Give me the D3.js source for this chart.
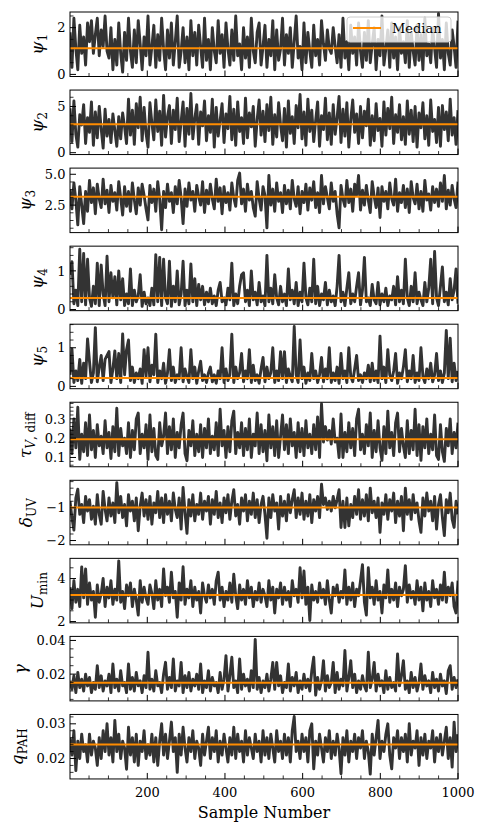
<!DOCTYPE html>
<html>
<head>
<meta charset="utf-8">
<script src="https://cdn.jsdelivr.net/npm/d3@7"></script>
<style>
body { margin: 0; background: #fff; }
svg text { font-family: "DejaVu Serif", "Liberation Serif", "Noto Serif", serif; fill: #000; }
</style>
</head>
<body>
<svg id="chart" width="485" height="832"></svg>
<script>
// chain, one value every ~5 samples
var psi1 = [1.8,0.3,2.4,1.1,0.2,2.1,0.9,1.6,0.4,2.2, 1.4,2.3,0.9,1.7,2.4,0.8,1.9,1.2,2.5,1.0,
  0.7,2.0,0.2,1.5,0.4,2.2,0.9,0.1,1.8,0.6, 2.4,1.0,0.3,1.9,0.5,2.3,1.3,0.2,1.6,0.8,
  2.5,0.4,1.2,2.1,0.3,1.7,0.6,2.4,1.1,0.2, 1.9,0.7,2.2,0.4,1.4,2.5,0.3,1.0,2.0,0.5,
  1.6,0.2,2.3,0.8,1.8,0.4,2.1,1.2,0.3,2.4, 0.6,1.5,0.2,2.0,1.0,0.5,2.3,0.9,1.7,0.3,
  2.2,1.1,0.4,1.9,0.6,2.5,0.8,1.3,0.2,2.0, 0.7,1.6,0.3,2.4,1.0,0.5,1.8,2.2,0.4,1.2,
  2.1,0.3,1.5,0.8,2.3,0.2,1.9,0.6,1.1,2.4, 0.4,1.7,0.9,2.0,0.3,1.4,2.5,0.7,1.2,0.2,
  2.2,0.5,1.8,1.0,0.3,2.1,0.8,1.5,0.4,2.3, 1.3,0.6,1.9,1.1,0.9,2.0,1.2,0.5,1.7,0.3,
  2.4,0.7,1.4,0.2,2.1,0.9,1.6,0.4,2.2,1.0, 0.3,1.8,0.6,2.3,0.5,1.3,2.0,0.2,1.5,0.8,
  2.5,0.4,1.1,1.9,0.3,2.2,0.7,1.6,0.2,2.0, 0.9,1.4,0.5,2.3,0.3,1.8,1.0,0.4,2.1,0.6,
  1.7,0.2,2.4,0.8,1.3,0.5,2.0,1.1,0.3,2.6, 0.7,1.5,0.2,2.2,0.9,0.4,1.9,1.2,0.3,2.3];

var psi2 = [4.8,1.2,5.6,2.0,0.6,4.1,3.0,5.2,1.0,3.8, 2.2,5.5,0.8,4.4,1.6,5.0,2.6,0.5,4.7,1.8,
  3.6,1.1,4.2,2.4,0.7,3.9,1.5,4.3,2.8,1.0, 5.8,1.9,4.6,0.9,5.3,2.7,6.0,1.3,4.9,2.1,
  0.6,5.4,3.2,1.4,5.7,2.3,4.5,0.8,6.2,1.7, 3.9,5.1,1.0,4.6,2.5,5.9,1.2,3.4,5.5,0.7,
  4.8,2.0,6.4,1.5,3.7,5.2,0.9,4.4,2.9,5.6, 1.3,4.0,2.2,5.8,0.6,4.9,1.8,3.5,5.3,1.1,
  4.2,2.6,6.1,1.4,4.7,0.8,5.5,2.3,3.8,1.0, 5.9,1.6,4.3,2.8,5.0,0.7,3.6,5.7,1.9,4.5,
  1.2,5.2,2.4,6.0,0.9,4.1,1.7,5.4,3.0,1.3, 4.8,0.6,5.6,2.1,3.9,1.0,5.1,2.7,6.3,1.5,
  4.4,0.8,5.8,2.3,4.6,1.2,3.5,5.5,0.7,4.0, 2.5,5.9,1.4,4.3,0.9,5.2,2.0,3.8,6.1,1.1,
  4.7,1.8,5.4,0.6,3.6,5.7,2.2,4.2,1.0,5.0, 1.6,4.5,2.9,5.8,0.8,4.0,1.3,5.3,2.4,3.7,
  0.7,5.5,1.9,4.8,2.6,6.0,1.0,4.1,2.2,5.2, 1.4,3.9,0.9,5.6,2.0,4.6,1.2,5.0,0.6,4.3,
  2.7,5.4,1.5,4.0,0.8,5.7,2.3,3.6,1.1,4.9, 0.7,5.1,2.5,4.4,1.3,5.8,1.9,3.8,0.9,4.6];

var psi3 = [3.8,2.2,4.3,2.9,0.9,4.0,2.5,1.0,3.6,2.0, 4.5,2.7,3.9,1.8,4.2,3.0,2.3,4.6,2.6,3.7,
  1.9,4.1,2.8,3.5,2.1,4.4,3.1,1.7,4.0,2.4, 3.6,2.0,4.3,2.9,1.8,3.9,2.5,4.2,3.3,2.2,
  1.3,4.1,2.7,3.8,2.0,4.4,3.0,0.5,3.6,2.3, 4.2,2.8,3.5,1.9,4.0,2.6,4.5,3.1,1.0,3.8,
  2.4,4.3,2.9,3.6,2.0,4.1,3.2,2.5,4.4,1.9, 3.7,2.6,4.2,3.0,2.2,4.6,2.8,3.9,1.8,4.0,
  2.7,3.5,2.1,4.3,3.1,2.4,4.5,5.1,2.6,3.8, 2.0,4.2,2.9,3.6,2.3,1.6,4.4,3.0,2.1,4.0,
  3.3,0.65,4.9,2.5,3.8,2.0,4.3,2.8,3.5,1.9, 4.1,2.6,3.7,2.2,4.5,3.0,2.4,4.0,1.8,3.6,
  2.7,4.2,2.1,3.9,2.9,4.4,2.3,3.5,1.9,4.9, 2.6,4.0,3.1,2.2,4.3,2.8,3.6,1.8,0.65,4.1,
  3.0,2.4,4.5,2.7,3.8,2.0,4.2,3.3,4.9,2.1, 3.7,2.5,4.1,2.9,1.9,4.4,3.2,2.3,3.9,1.5,
  4.0,2.8,3.6,2.2,4.3,3.0,2.5,4.6,2.0,3.5, 2.7,4.1,2.3,3.8,1.9,4.4,3.1,2.6,4.2,2.2,
  3.6,2.0,4.5,2.9,3.4,2.1,4.0,2.7,3.8,2.4, 4.3,2.8,4.9,2.2,3.7,2.5,4.1,3.0,2.3,4.4];

var psi4 = [0.9,1.24,0.15,0.5,0.1,1.56,0.2,1.45,0.12,1.3, 0.3,0.08,0.6,0.15,1.2,0.1,1.15,0.4,0.1,1.38,
  0.2,0.95,0.3,0.85,0.12,1.0,0.25,0.8,0.1,0.4, 0.15,1.05,0.1,0.5,0.2,0.35,0.9,0.08,0.45,0.15,
  0.3,0.1,0.55,0.12,1.42,0.2,1.35,0.1,1.3,0.3, 0.15,1.25,0.08,0.6,0.2,1.0,0.12,0.4,1.25,0.1,
  0.5,0.15,1.18,0.2,0.8,0.1,0.65,0.25,0.6,0.12, 0.45,0.2,0.55,0.15,0.35,0.1,0.5,0.7,0.2,0.3,
  0.12,0.55,0.25,1.2,0.1,0.4,0.15,0.6,0.9,0.95, 0.2,0.5,0.1,1.0,0.25,0.45,0.12,0.7,0.2,0.35,
  0.1,1.4,0.2,0.55,0.15,0.9,0.3,0.12,0.6,0.2, 0.4,0.1,1.05,0.25,0.5,0.15,0.7,0.1,0.45,0.2,
  1.2,0.3,0.12,0.55,0.2,1.3,0.15,0.6,0.1,0.4, 0.25,0.7,0.12,0.5,0.2,0.35,0.1,0.6,1.4,0.2,
  0.45,0.1,0.55,0.95,0.15,0.4,0.2,0.6,0.95,0.12, 0.5,1.35,0.2,0.3,0.1,0.65,0.25,0.15,0.7,0.12,
  0.4,0.2,0.55,0.1,0.35,0.25,0.6,0.12,0.85,0.2, 0.5,0.15,1.3,0.3,0.1,0.6,0.2,0.95,0.15,0.45,
  0.25,0.1,0.7,0.2,0.55,1.3,0.15,1.5,0.3,0.1, 0.6,1.1,0.2,0.45,0.12,0.8,0.25,0.5,1.05,0.15];

var psi5 = [0.3,0.97,0.1,0.4,0.15,0.7,0.08,0.6,0.2,1.23, 0.65,0.1,0.35,1.52,0.12,0.5,0.8,0.15,0.7,0.8,
  0.9,0.1,0.45,0.92,0.2,0.85,0.1,1.36,0.3,0.95, 1.2,0.15,0.5,0.1,0.35,0.2,0.45,0.08,0.95,0.25,
  1.0,0.12,0.55,0.3,1.35,0.1,0.4,0.2,0.6,0.08, 0.35,0.95,0.15,0.5,0.1,0.3,0.2,1.0,0.12,0.45,
  0.25,0.1,0.95,0.2,0.5,0.08,0.4,0.65,0.15,0.3, 0.1,0.35,0.5,0.12,0.3,0.08,0.4,0.2,1.0,0.1,
  0.45,0.15,0.3,1.35,0.1,0.5,0.2,0.35,0.85,0.12, 0.4,0.2,0.95,0.1,0.55,0.15,0.3,0.08,0.45,0.75,
  0.12,0.5,0.2,0.35,1.0,0.1,0.4,0.15,0.9,0.2, 0.9,0.1,0.45,0.25,0.12,1.55,0.3,0.1,1.2,0.2,
  0.5,0.08,0.35,0.15,0.85,0.2,0.4,0.1,0.3,0.75, 0.12,0.45,0.2,1.0,0.1,0.35,0.15,0.5,0.08,0.85,
  0.2,0.4,0.1,1.0,0.25,0.12,0.45,0.8,0.15,0.3, 0.1,0.35,0.2,0.55,0.12,0.6,0.15,0.4,0.1,1.3,
  0.2,0.5,0.1,0.95,0.3,0.15,0.4,0.85,0.08,0.35, 0.2,0.5,0.95,0.12,0.4,0.2,0.8,0.1,0.35,0.15,
  1.0,0.25,0.1,0.45,0.2,0.6,0.12,0.3,0.85,0.15, 0.4,0.1,0.35,1.45,0.2,1.25,0.12,0.6,0.15,0.4];

var tauDiff = [0.25,0.12,0.3,0.15,0.36,0.09,0.22,0.13,0.28,0.11, 0.32,0.14,0.24,0.1,0.27,0.16,0.21,0.12,0.29,0.15,
  0.23,0.095,0.26,0.13,0.355,0.11,0.25,0.16,0.2,0.12, 0.28,0.1,0.24,0.14,0.3,0.33,0.12,0.22,0.15,0.27,
  0.09,0.32,0.13,0.25,0.11,0.09,0.28,0.16,0.21,0.33, 0.12,0.26,0.14,0.3,0.1,0.23,0.15,0.27,0.33,0.12,
  0.083,0.24,0.16,0.29,0.11,0.22,0.13,0.27,0.1,0.25, 0.15,0.3,0.12,0.21,0.14,0.28,0.11,0.35,0.16,0.24,
  0.1,0.26,0.13,0.29,0.34,0.12,0.23,0.15,0.28,0.11, 0.25,0.14,0.3,0.1,0.22,0.16,0.33,0.12,0.27,0.13,
  0.24,0.083,0.32,0.15,0.26,0.11,0.29,0.1,0.21,0.32, 0.14,0.27,0.12,0.3,0.16,0.23,0.1,0.28,0.13,0.25,
  0.11,0.29,0.15,0.22,0.12,0.27,0.14,0.31,0.1,0.378, 0.18,0.26,0.19,0.24,0.17,0.3,0.18,0.2,0.1,0.325,
  0.1,0.23,0.13,0.28,0.15,0.25,0.11,0.3,0.35,0.14, 0.22,0.12,0.27,0.16,0.33,0.1,0.24,0.13,0.29,0.15,
  0.085,0.26,0.12,0.34,0.15,0.23,0.11,0.28,0.33,0.13, 0.25,0.16,0.1,0.29,0.12,0.24,0.14,0.35,0.11,0.27,
  0.085,0.26,0.15,0.3,0.12,0.22,0.14,0.32,0.11,0.09, 0.27,0.13,0.08,0.25,0.16,0.3,0.12,0.23,0.15,0.28];

var deltaUV = [-0.8,-1.3,-1.68,-0.7,-0.43,-1.2,-0.9,-1.45,-0.65,-1.1, -0.75,-1.35,-0.95,-1.5,-0.6,-1.2,-1.5,-0.5,-1.05,-1.4,
  -0.7,-1.25,-0.85,-1.45,-0.23,-1.15,-0.65,-1.3,-0.9,-1.55, -0.6,-1.1,-0.8,-1.4,-0.7,-1.7,-0.95,-0.55,-1.25,-0.75,
  -1.35,-0.65,-1.5,-0.85,-1.15,-0.5,-1.3,-0.7,-1.45,-0.6, -1.2,-0.8,-1.4,-0.55,-1.05,-1.3,-0.7,-1.65,-0.38,-1.15,
  -1.78,-0.75,-1.25,-0.6,-1.4,-0.9,-1.2,-0.55,-1.35,-0.8, -1.1,-0.65,-1.5,-0.75,-1.2,-0.5,-1.3,-0.85,-1.45,-0.7,
  -1.15,-0.6,-1.35,-0.8,-0.45,-1.25,-0.9,-1.5,-0.7,-1.1, -0.6,-1.4,-0.8,-1.2,-0.55,-1.3,-0.75,-1.45,-0.9,-0.65,
  -1.2,-1.93,-0.7,-1.3,-0.6,-1.1,-0.85,-1.65,-0.65,-1.25, -0.8,-1.4,-0.6,-1.15,-0.75,-0.45,-1.3,-0.7,-1.2,-0.55,
  -1.35,-0.8,-1.25,-0.6,-1.45,-0.75,-1.1,-0.65,-1.3,-0.28, -0.9,-0.7,-1.05,-0.8,-1.1,-0.65,-1.0,-0.75,-0.45,-1.6,
  -0.8,-1.6,-0.7,-1.55,-0.9,-1.3,-0.65,-1.2,-0.45,-1.35, -0.75,-1.25,-0.6,-1.4,-0.4,-1.15,-0.8,-1.3,-0.7,-1.75,
  -0.85,-1.2,-0.6,-1.35,-0.75,-1.1,-0.55,-1.45,-0.8,-1.25, -0.65,-1.7,-0.4,-1.2,-0.75,-1.35,-0.6,-1.15,-0.85,-1.4,
  -1.75,-0.7,-1.25,-0.55,-1.1,-0.8,-1.4,-0.65,-1.65,-0.9, -0.6,-1.3,-1.85,-0.75,-1.15,-0.55,-1.35,-1.6,-0.8,-1.2];

var uMin = [3.6,2.6,3.9,2.9,3.5,2.7,4.54,3.1,4.45,2.8, 3.8,3.0,3.4,2.2,3.7,2.9,3.3,4.0,2.7,3.6,
  3.1,3.9,2.8,3.5,3.0,4.82,2.9,3.4,2.6,3.7, 3.2,3.8,2.7,3.5,3.0,2.3,3.9,2.9,3.6,3.1,
  2.8,3.7,3.3,2.6,3.9,3.0,3.5,2.7,4.45,3.2, 3.6,2.9,4.3,3.1,3.4,2.2,3.8,3.0,4.55,2.8,
  3.5,3.1,3.9,2.7,3.6,3.0,3.4,2.4,3.8,3.2, 2.9,3.7,3.1,3.5,2.8,3.9,4.3,3.0,3.6,2.7,
  3.4,3.0,3.8,2.9,4.2,3.2,2.6,3.7,3.0,3.5, 2.8,3.9,3.1,3.6,2.7,3.4,3.0,3.8,2.9,3.5,
  3.2,2.7,3.9,3.0,3.6,2.4,3.5,3.1,3.8,2.8, 3.6,3.0,3.4,2.7,3.9,3.2,3.5,2.9,4.5,3.1,
  4.35,2.8,3.6,2.05,3.7,3.0,3.4,2.9,3.8,3.1, 3.5,2.8,3.9,3.0,2.4,3.6,3.2,3.7,2.9,3.4,
  3.1,4.4,2.8,3.6,3.0,3.8,2.7,3.5,3.2,3.9, 4.65,2.9,2.3,4.5,3.1,3.6,2.8,3.9,3.0,3.4,
  2.4,3.7,3.1,4.4,2.9,3.5,3.0,3.8,2.7,3.6, 3.2,3.5,4.6,2.9,3.7,3.1,3.4,2.8,3.9,3.0,
  3.6,2.5,3.8,3.0,3.4,2.7,3.9,3.1,3.5,2.8, 3.7,3.0,4.3,2.9,3.6,3.2,3.8,2.7,2.4,3.9];

var gammaVals = [0.016,0.011,0.019,0.009,0.021,0.012,0.017,0.01,0.02,0.013, 0.018,0.009,0.015,0.011,0.025,0.012,0.019,0.01,0.016,0.013,
  0.02,0.009,0.026,0.012,0.017,0.01,0.022,0.013,0.015,0.009, 0.026,0.011,0.018,0.01,0.021,0.013,0.016,0.009,0.019,0.012,
  0.033,0.011,0.017,0.01,0.022,0.013,0.015,0.009,0.02,0.027, 0.011,0.018,0.012,0.029,0.01,0.016,0.013,0.027,0.009,0.019,
  0.012,0.021,0.01,0.017,0.013,0.02,0.011,0.026,0.009,0.016, 0.012,0.022,0.01,0.018,0.013,0.015,0.009,0.021,0.011,0.017,
  0.031,0.01,0.019,0.03,0.012,0.016,0.009,0.029,0.011,0.02, 0.013,0.017,0.01,0.022,0.012,0.0406,0.011,0.018,0.009,0.016,
  0.012,0.02,0.01,0.017,0.027,0.011,0.027,0.013,0.019,0.009, 0.015,0.012,0.026,0.01,0.018,0.013,0.021,0.009,0.016,0.011,
  0.02,0.012,0.017,0.01,0.022,0.03,0.0075,0.018,0.011,0.016, 0.028,0.01,0.019,0.012,0.015,0.027,0.009,0.021,0.011,0.017,
  0.013,0.034,0.01,0.018,0.028,0.012,0.02,0.009,0.016,0.011, 0.019,0.013,0.01,0.033,0.012,0.017,0.027,0.01,0.02,0.013,
  0.016,0.009,0.022,0.011,0.018,0.012,0.015,0.01,0.032,0.013, 0.019,0.028,0.011,0.016,0.009,0.021,0.012,0.018,0.01,0.015,
  0.026,0.011,0.019,0.013,0.016,0.009,0.021,0.012,0.017,0.01, 0.02,0.013,0.016,0.0085,0.022,0.025,0.011,0.018,0.012,0.017];

var qPAH = [0.026,0.021,0.028,0.0165,0.025,0.02,0.027,0.022,0.024,0.019, 0.027,0.021,0.025,0.023,0.018,0.026,0.02,0.028,0.022,0.03,
  0.021,0.026,0.019,0.031,0.022,0.027,0.02,0.025,0.023,0.0169, 0.029,0.021,0.026,0.019,0.027,0.018,0.025,0.022,0.028,0.02,
  0.024,0.021,0.027,0.019,0.026,0.018,0.025,0.03,0.021,0.027, 0.02,0.025,0.0305,0.022,0.026,0.016,0.027,0.021,0.029,0.023,
  0.019,0.026,0.022,0.028,0.02,0.025,0.023,0.018,0.027,0.021, 0.025,0.029,0.02,0.026,0.022,0.028,0.019,0.025,0.021,0.027,
  0.023,0.019,0.026,0.021,0.029,0.02,0.027,0.022,0.025,0.019, 0.028,0.021,0.026,0.023,0.02,0.027,0.022,0.025,0.019,0.028,
  0.021,0.026,0.02,0.027,0.023,0.019,0.028,0.022,0.025,0.02, 0.027,0.021,0.026,0.019,0.028,0.0321,0.022,0.025,0.02,0.027,
  0.022,0.026,0.019,0.028,0.03,0.017,0.025,0.021,0.027,0.023, 0.019,0.026,0.022,0.028,0.02,0.025,0.021,0.027,0.023,0.0156,
  0.026,0.021,0.028,0.019,0.025,0.022,0.027,0.02,0.026,0.023, 0.028,0.02,0.025,0.022,0.0155,0.027,0.021,0.026,0.031,0.02,
  0.025,0.022,0.027,0.03,0.021,0.017,0.026,0.023,0.028,0.02, 0.026,0.022,0.027,0.019,0.03,0.021,0.025,0.023,0.028,0.018,
  0.026,0.021,0.027,0.02,0.025,0.023,0.028,0.019,0.026,0.022, 0.027,0.021,0.025,0.029,0.02,0.026,0.0175,0.0305,0.022,0.027];

var series = [psi1, psi2, psi3, psi4, psi5, tauDiff, deltaUV, uMin, gammaVals, qPAH];
var medians = [1.12, 3.07, 3.17, 0.30, 0.22, 0.195, -0.99, 3.23, 0.0149, 0.0240];
var yLimits = [[-0.09, 2.67], [-0.2, 6.78], [0.27, 5.5], [-0.03, 1.64], [-0.06, 1.61],
  [0.052, 0.386], [-2.13, -0.16], [1.94, 4.94], [0.0041, 0.0424], [0.0141, 0.0327]];
var majorTicks = [[0, 2], [0, 5], [2.5, 5.0], [0, 1], [0, 1], [0.1, 0.2, 0.3], [-2, -1], [2, 4], [0.02, 0.04], [0.02, 0.03]];
var minorSteps = [0.5, 1, 0.625, 0.2, 0.2, 0.02, 0.2, 0.5, 0.005, 0.002];
var tickFormats = ["d", "d", ".1f", "d", "d", ".1f", "d", "d", ".2f", ".2f"];
var xMajor = [200, 400, 600, 800, 1000];
var xMinorStep = 50;
var xLimits = [1, 1000];

// label pieces: [text, italic, subscript]
var yLabels = [
  [["ψ", 1, 0], ["1", 0, 1]],
  [["ψ", 1, 0], ["2", 0, 1]],
  [["ψ", 1, 0], ["3", 0, 1]],
  [["ψ", 1, 0], ["4", 0, 1]],
  [["ψ", 1, 0], ["5", 0, 1]],
  [["τ", 1, 0], ["V", 1, 1], [", diff", 0, 1]],
  [["δ", 1, 0], ["UV", 0, 1]],
  [["U", 1, 0], ["min", 0, 1]],
  [["γ", 1, 0]],
  [["q", 1, 0], ["PAH", 0, 1]]
];

var left = 70, right = 458, top0 = 12, panelStep = 78.05, panelH = 64.5;
var w = right - left;
var svg = d3.select("#chart");

var x = d3.scaleLinear().domain(xLimits).range([0, w]);

function minorValues(domain, step, majors) {
  var out = [];
  var k0 = Math.ceil(domain[0] / step - 1e-9), k1 = Math.floor(domain[1] / step + 1e-9);
  for (var k = k0; k <= k1; k++) {
    var v = k * step;
    var isMajor = majors.some(function(m){ return Math.abs(m - v) < step * 1e-3; });
    if (!isMajor) out.push(v);
  }
  return out;
}

series.forEach(function(vals, p) {
  var g = svg.append("g").attr("transform", "translate(" + left + "," + (top0 + p * panelStep) + ")");
  var y = d3.scaleLinear().domain(yLimits[p]).range([panelH, 0]);
  var n = vals.length;
  var xs = vals.map(function(d, i){ return xLimits[0] + i * (xLimits[1] - xLimits[0]) / (n - 1); });

  g.append("clipPath").attr("id", "clip" + p)
    .append("rect").attr("width", w).attr("height", panelH);

  // thinned chain is drawn with a heavier pen so it reads as the dense full trace
  var line = d3.line()
    .x(function(d, i){ return x(xs[i]); }).y(function(d){ return y(d); });
  g.append("path").datum(vals)
    .attr("clip-path", "url(#clip" + p + ")")
    .attr("d", line)
    .attr("fill", "none").attr("stroke", "#333").attr("stroke-width", 2.9)
    .attr("stroke-linejoin", "round");

  g.append("line")
    .attr("x1", 0).attr("x2", w)
    .attr("y1", y(medians[p])).attr("y2", y(medians[p]))
    .attr("stroke", "#ff8c00").attr("stroke-width", 2);

  // ticks point inward
  var fmt = d3.format(tickFormats[p]);
  majorTicks[p].forEach(function(t){
    g.append("line").attr("x1", 0).attr("x2", 6).attr("y1", y(t)).attr("y2", y(t))
      .attr("stroke", "#000").attr("stroke-width", 1);
  });
  minorValues(yLimits[p], minorSteps[p], majorTicks[p]).forEach(function(t){
    g.append("line").attr("x1", 0).attr("x2", 3.5).attr("y1", y(t)).attr("y2", y(t))
      .attr("stroke", "#000").attr("stroke-width", 0.8);
  });
  d3.range(xMinorStep, xLimits[1] + 1, xMinorStep).forEach(function(t){
    var major = xMajor.indexOf(t) >= 0;
    g.append("line").attr("x1", x(t)).attr("x2", x(t))
      .attr("y1", panelH).attr("y2", panelH - (major ? 6 : 3.5))
      .attr("stroke", "#000").attr("stroke-width", major ? 1 : 0.8);
  });

  var tl = g.selectAll(".ytl").data(majorTicks[p]).enter().append("text")
    .attr("class", "ytl")
    .attr("x", -4.5).attr("y", function(t){ return y(t); })
    .attr("dy", "0.36em").attr("text-anchor", "end")
    .attr("font-size", 13).text(function(t){ return fmt(t); });

  g.append("rect").attr("width", w).attr("height", panelH)
    .attr("fill", "none").attr("stroke", "#000").attr("stroke-width", 1);

  // y label, placed left of the widest tick label
  var lab = g.append("text").attr("text-anchor", "middle");
  var first = true;
  yLabels[p].forEach(function(part){
    var ts = lab.append("tspan").text(part[0])
      .attr("font-size", part[2] ? 12 : 17)
      .attr("font-style", part[1] ? "italic" : "normal");
    if (part[2] && first) { ts.attr("dy", 4); first = false; }
  });
  var tickLeft = d3.min(tl.nodes(), function(nd){ return nd.getBBox().x; });
  var bb = lab.node().getBBox();
  var cx = bb.x + bb.width / 2;
  lab.attr("transform", "translate(" + (tickLeft - 7 - (bb.y + bb.height)) + "," + (panelH / 2 + cx) + ") rotate(-90)");

  if (p === 0) {
    var lg = g.append("g").attr("transform", "translate(" + (w - 111) + ",5)");
    lg.append("rect").attr("width", 104).attr("height", 25).attr("rx", 3)
      .attr("fill", "#fff").attr("fill-opacity", 0.8).attr("stroke", "#ccc");
    lg.append("line").attr("x1", 6).attr("x2", 34).attr("y1", 11).attr("y2", 11)
      .attr("stroke", "#ff8c00").attr("stroke-width", 2);
    lg.append("text").attr("x", 45).attr("y", 16).attr("font-size", 13).text("Median");
  }

  if (p === series.length - 1) {
    g.selectAll(".xtl").data(xMajor).enter().append("text")
      .attr("x", function(t){ return x(t); }).attr("y", panelH + 18)
      .attr("text-anchor", "middle").attr("font-size", 13)
      .text(function(t){ return t; });
    g.append("text").attr("x", w / 2).attr("y", panelH + 39)
      .attr("text-anchor", "middle").attr("font-size", 16).text("Sample Number");
  }
});
</script>
</body>
</html>
